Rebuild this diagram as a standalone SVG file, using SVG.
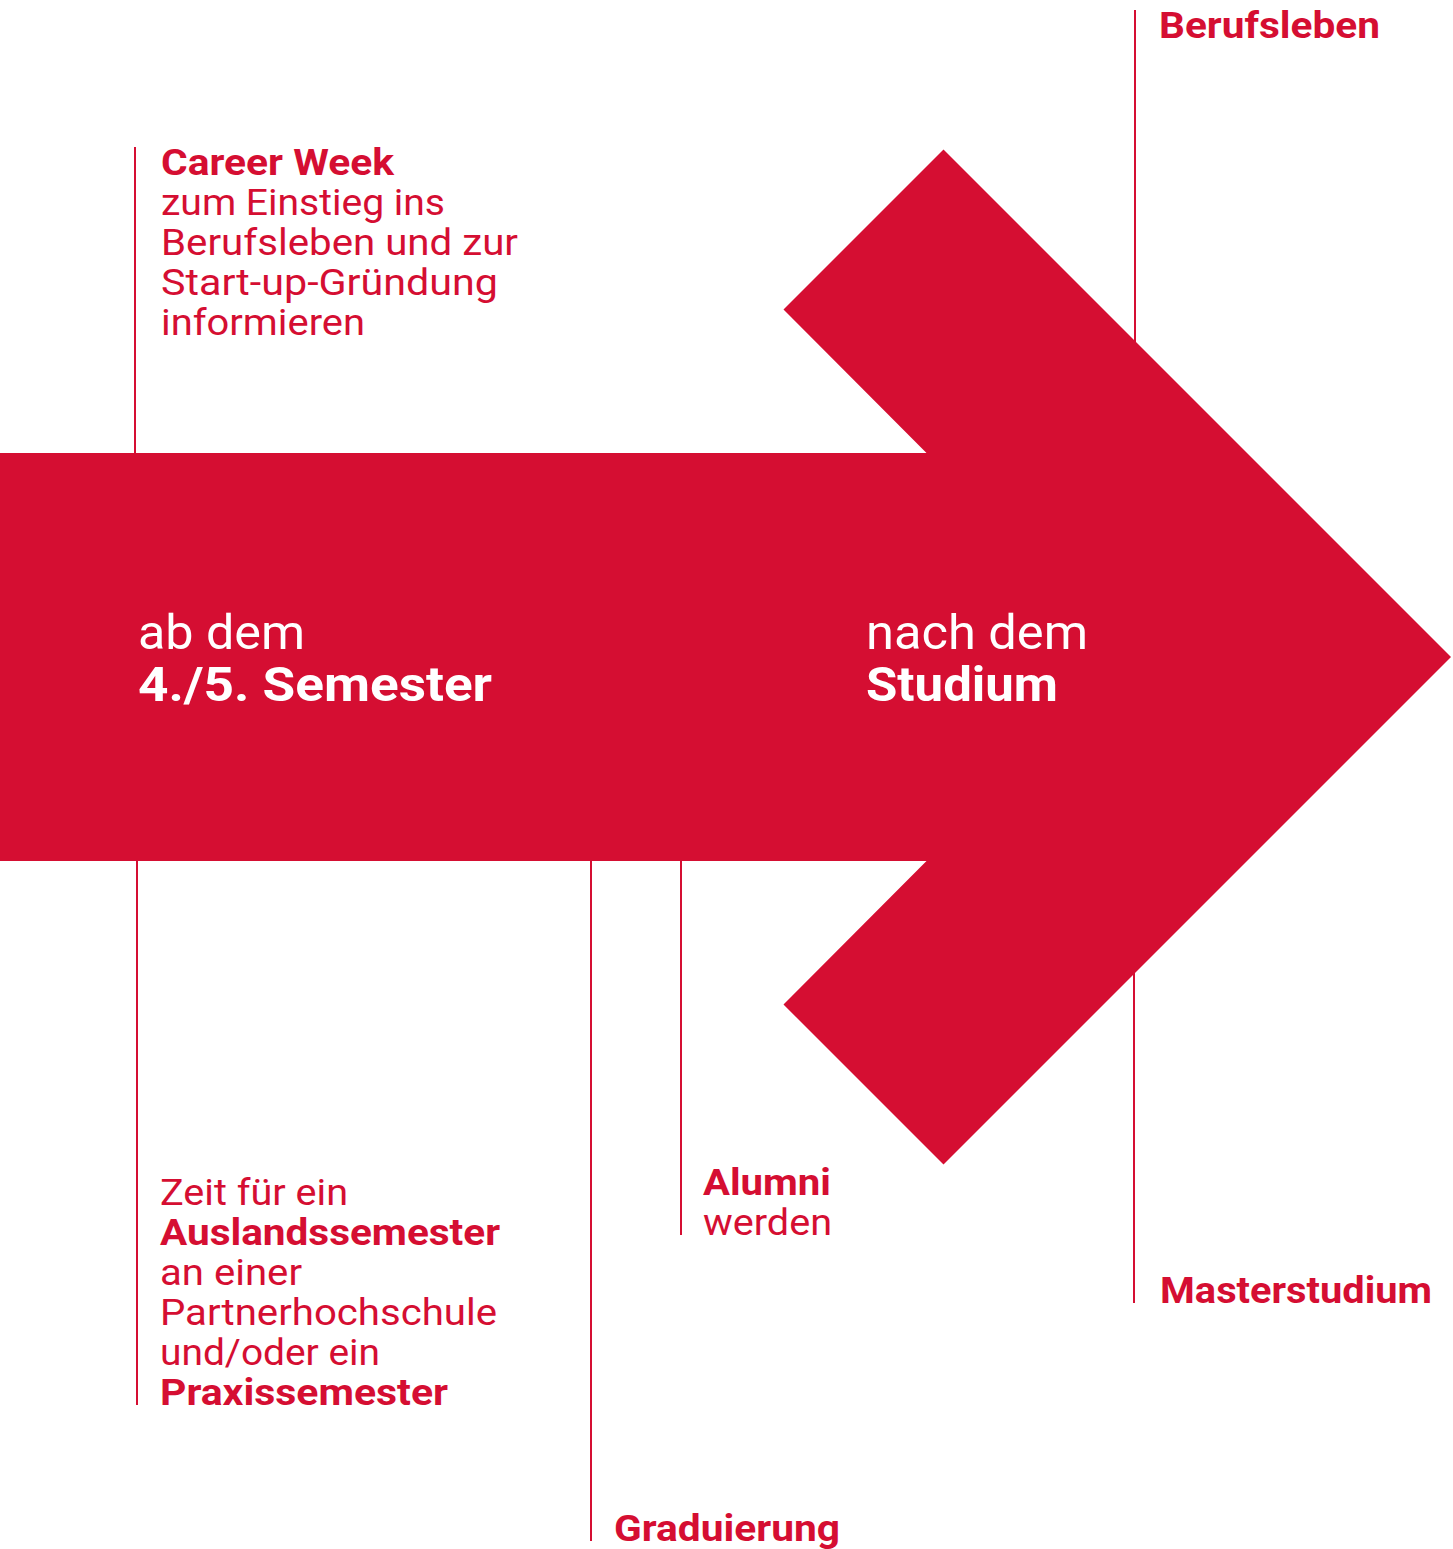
<svg xmlns="http://www.w3.org/2000/svg" width="1453" height="1549" viewBox="0 0 1453 1549">
<style>
.t{font-family:Roboto,"Liberation Sans",sans-serif;fill:#d50e32}
.s{font-size:37px}
.b{font-weight:bold}
.w{fill:#ffffff;font-size:48px}
.ln{stroke:#d50e32;stroke-width:2;fill:none}
</style>
<rect width="1453" height="1549" fill="#ffffff"/>
<g id="connectors">
<line class="ln" x1="135" y1="147" x2="135" y2="455"/>
<line class="ln" x1="137" y1="858" x2="137" y2="1405"/>
<line class="ln" x1="591" y1="858" x2="591" y2="1541"/>
<line class="ln" x1="681" y1="858" x2="681" y2="1235"/>
<line class="ln" x1="1135" y1="10" x2="1135" y2="360"/>
<line class="ln" x1="1134" y1="960" x2="1134" y2="1303"/>
</g>
<g id="arrow">
<polygon fill="#d50e32" points="0,453 926.5,453 783.5,309.5 943.5,149.5 1451,657 943.5,1164.5 783.5,1004.5 926.5,861 0,861"/>
<text class="t w" x="138" y="649" textLength="167" lengthAdjust="spacingAndGlyphs">ab dem</text>
<text class="t w b" x="138" y="701" textLength="354" lengthAdjust="spacingAndGlyphs">4./5. Semester</text>
<text class="t w" x="866" y="649" textLength="222" lengthAdjust="spacingAndGlyphs">nach dem</text>
<text class="t w b" x="866" y="701" textLength="192" lengthAdjust="spacingAndGlyphs">Studium</text>
</g>
<g id="career-week">
<text class="t s b" x="161" y="175" textLength="233" lengthAdjust="spacingAndGlyphs">Career Week</text>
<text class="t s" x="161" y="215" textLength="284" lengthAdjust="spacingAndGlyphs">zum Einstieg ins</text>
<text class="t s" x="161" y="255" textLength="357" lengthAdjust="spacingAndGlyphs">Berufsleben und zur</text>
<text class="t s" x="161" y="295" textLength="337" lengthAdjust="spacingAndGlyphs">Start-up-Gründung</text>
<text class="t s" x="161" y="335" textLength="204" lengthAdjust="spacingAndGlyphs">informieren</text>
</g>
<g id="berufsleben">
<text class="t s b" x="1159" y="38" textLength="221" lengthAdjust="spacingAndGlyphs">Berufsleben</text>
</g>
<g id="auslandssemester">
<text class="t s" x="160" y="1205" textLength="188" lengthAdjust="spacingAndGlyphs">Zeit für ein</text>
<text class="t s b" x="160" y="1245" textLength="340" lengthAdjust="spacingAndGlyphs">Auslandssemester</text>
<text class="t s" x="160" y="1285" textLength="142" lengthAdjust="spacingAndGlyphs">an einer</text>
<text class="t s" x="160" y="1325" textLength="337" lengthAdjust="spacingAndGlyphs">Partnerhochschule</text>
<text class="t s" x="160" y="1365" textLength="220" lengthAdjust="spacingAndGlyphs">und/oder ein</text>
<text class="t s b" x="160" y="1405" textLength="288" lengthAdjust="spacingAndGlyphs">Praxissemester</text>
</g>
<g id="alumni">
<text class="t s b" x="703" y="1195" textLength="128" lengthAdjust="spacingAndGlyphs">Alumni</text>
<text class="t s" x="703" y="1235" textLength="129" lengthAdjust="spacingAndGlyphs">werden</text>
</g>
<g id="graduierung">
<text class="t s b" x="614" y="1541" textLength="226" lengthAdjust="spacingAndGlyphs">Graduierung</text>
</g>
<g id="masterstudium">
<text class="t s b" x="1160" y="1303" textLength="272" lengthAdjust="spacingAndGlyphs">Masterstudium</text>
</g>
</svg>
